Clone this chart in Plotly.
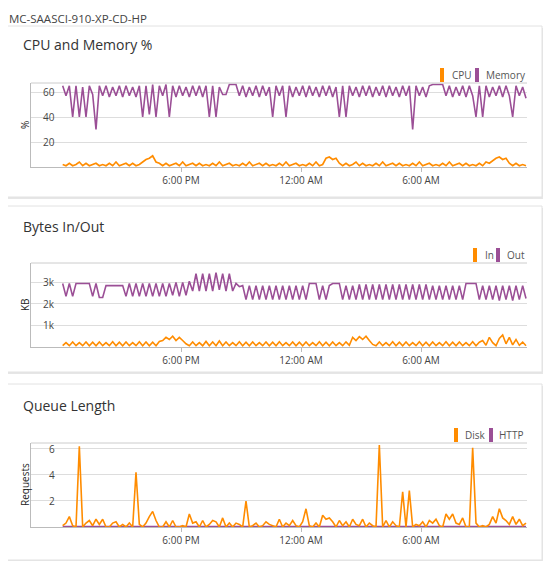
import pandas as pd
import plotly.graph_objects as go

W, H = 551, 569
OFF = 8  # default page margin
FW, FH = W - 2 * OFF, H - 2 * OFF
times = pd.date_range("2024-01-01 12:05", periods=140, freq="10min")

memory = [65,57,65,40,65,40,64,40,65,58,30,
          65,57,65,56,64,57,65,56,65,57,64,56,
          65,40,65,42,66,40,65,57,66,40,
          65,56,65,57,64,56,65,57,65,56,
          65,40,65,40,64,
          58,58,
          66,66,66,
          57,65,56,64,57,65,56,65,57,64,
          40,65,57,65,40,
          65,56,64,57,65,56,65,57,64,56,65,57,65,56,64,
          40,65,40,
          65,57,64,56,65,57,65,56,64,57,65,56,65,57,64,56,65,57,65,
          30,
          65,57,64,56,65,
          66,66,66,66,
          57,65,56,64,57,65,56,65,57,
          40,65,40,
          65,56,64,57,65,56,65,57,
          40,
          65,57,64,55]
cpu = [2,1,3,1,2,4,1,3,1,2, 3,1,2,1,3,1,4,1,2,3, 1,3,1,2,4,6,7,9,4,3,
       1,3,1,2,3,1,4,1,2,3, 1,3,1,2,1,3,1,4,1,2, 3,1,2,1,3,1,4,1,2,3,
       1,3,1,2,1,3,1,4,1,2, 3,1,2,1,3,1,4,1,2,7, 8,6,7,3,1,3,1,2,4,1,
       3,1,2,1,3,1,4,1,2,3, 1,3,1,2,1,3,1,4,1,2, 3,1,2,1,3,1,4,1,2,3,
       1,3,1,2,1,3,1,4,3,5, 7,8,6,7,3,1,3,1,2,1]
bytes_out = [2950,2350,2950,2350,2950,2950,2950,2950,2950,2350,
             2950,2300,2300,2850,2850,2850,2850,2850,2850,2350,
             2950,2350,2950,2350,2950,2350,2950,2350,2950,2350,
             2950,2350,2950,2400,3000,2350,3000,2400,3050,2600,
             3400,2600,3400,2600,3400,2600,3450,2650,3400,2600,
             3400,2600,2950,2800,2850,2200,2850,2200,2850,2200,
             2850,2200,2850,2200,2850,2200,2850,2200,2850,2200,
             2850,2200,2850,2200,2950,2950,2950,2200,2850,2200,
             2850,2950,2950,2950,2200,2850,2200,2850,2200,2900,
             2200,2900,2200,2900,2200,2900,2200,2900,2200,2900,
             2200,2900,2200,2900,2200,2900,2200,2900,2200,2900,
             2200,2850,2200,2850,2200,2850,2200,2850,2200,2850,
             2200,2950,2950,2950,2950,2200,2850,2200,2850,2200,
             2850,2150,2850,2200,2850,2150,2850,2200,2850,2250]
bytes_in = [60,200,60,230,60,200,60,230,60,220, 60,230,60,200,60,240,60,220,60,230,
            60,200,60,240,60,230,60,220,60,260, 300,450,350,500,300,450,300,150,60,230,
            60,200,60,260,60,230,60,280,60,230, 60,200,60,240,60,220,60,230,60,200,
            60,230,60,220,60,240,60,200,60,230, 60,220,60,230,60,200,60,240,60,220,
            60,230,60,200,60,240,80,450,300,480, 350,500,300,120,60,230,60,200,60,240,
            60,220,60,230,60,200,60,240,60,220, 60,230,60,200,60,240,60,220,60,230,
            60,200,60,240,60,220,300,80,450,200, 60,400,560,150,450,100,350,80,230,60]
disk = [0.1,0.3,0.8,0.1,0,6.2,0,0.3,0.5,0.1, 0.6,0.2,0.6,0,0,0.3,0.4,0,0.2,0,
        0.3,0,4.2,0.2,0,0.3,0.8,1.2,0.5,0, 0,0.4,0,0.5,0,0,0.1,0,1.0,0.3,
        0.4,0,0.5,0,0.2,0.5,0.4,0,0.7,0, 0.3,0,0.3,0.2,0,2.0,0,0.1,0.3,0,
        0.1,0.4,0.2,0.1,0,0.6,0,0.3,0.1,0.5, 0.1,0,0.4,1.4,0.1,0,0.3,0,0.9,0.6,
        0.7,0.4,0,0.5,0.1,0.4,0,0.6,0.2,0.1, 0.6,0,0.3,0.1,0,6.3,0,0.5,0,0.4,
        0.1,0,2.7,0,2.8,0,0.2,0.1,0.4,0, 0.5,0.3,0.6,0.1,0,1.0,0.6,1.0,0.3,0.2,
        0.7,0,0,6.1,0.3,0,0.1,0,0.2,0.8, 0.3,1.4,0.7,0.5,0.2,0.8,0.2,0.6,0.1,0.3]
http = [0.03,0.03,0.03,0.03,0.03,0.03,0.03,0.03,0.03,0.03, 0.03,0.03,0.03,0.03,0.03,0.03,0.03,0.03,0.03,0.03,
        0.03,0.03,0.03,0.03,0.03,0.03,0.03,0.03,0.03,0.03, 0.03,0.03,0.03,0.03,0.03,0.03,0.03,0.03,0.03,0.03,
        0.03,0.03,0.03,0.03,0.03,0.03,0.03,0.03,0.03,0.03, 0.03,0.03,0.03,0.03,0.03,0.03,0.03,0.03,0.03,0.03,
        0.03,0.03,0.03,0.03,0.03,0.03,0.03,0.03,0.03,0.03, 0.03,0.03,0.03,0.03,0.03,0.03,0.03,0.03,0.03,0.03,
        0.03,0.03,0.03,0.03,0.03,0.03,0.03,0.03,0.03,0.03, 0.03,0.03,0.03,0.03,0.03,0.03,0.03,0.03,0.03,0.03,
        0.03,0.03,0.03,0.03,0.03,0.03,0.03,0.03,0.03,0.03, 0.03,0.03,0.03,0.03,0.03,0.03,0.03,0.03,0.03,0.03,
        0.03,0.03,0.03,0.03,0.03,0.03,0.03,0.03,0.03,0.03, 0.03,0.03,0.03,0.03,0.03,0.03,0.03,0.03,0.03,0.03]

panel_titles = ["CPU and Memory %", "Bytes In/Out", "Queue Length"]
axis_titles = ["%", "KB", "Requests"]
legend_names = [("CPU", "Memory"), ("In", "Out"), ("Disk", "HTTP")]
x_tickvals = ["2024-01-01 18:00", "2024-01-02 00:00", "2024-01-02 06:00"]
x_ticktext = ["6:00 PM", "12:00 AM", "6:00 AM"]
y_tickvals = [[20, 40, 60], [1000, 2000, 3000], [2, 4, 6]]
y_ticktext = [["20", "40", "60"], ["1k", "2k", "3k"], ["2", "4", "6"]]

ORANGE = "#FF8C00"
PURPLE = "#9B4F96"
FONT = "Open Sans"

def px(x): return (x - OFF) / FW
def py(y): return 1 - (y - OFF) / FH

fig = go.Figure()
series = [(cpu, memory), (bytes_in, bytes_out), (disk, http)]
plots = [(83, 167), (263, 347), (443, 527)]
cards = [(26, 197), (206, 372), (384, 560)]
yranges = [[0, 67.2], [0, 3900], [0, 6.46]]
leg = [(440, 450, 475, 484, 75), (473, 483, 496, 505, 255), (454, 463, 489, 497, 435)]

shapes, annotations = [], []
annotations.append(dict(x=px(7), y=py(9), xref="paper", yref="paper", text="MC-SAASCI-910-XP-CD-HP",
                        showarrow=False, xanchor="left", yanchor="top",
                        font=dict(family=FONT, size=11.5, color="#444")))
for k in range(3):
    n = "" if k == 0 else str(k + 1)
    a, b = series[k]
    fig.add_trace(go.Scatter(x=times, y=b, mode="lines", line=dict(color=PURPLE, width=1.6),
                             xaxis="x" + n, yaxis="y" + n, showlegend=False))
    fig.add_trace(go.Scatter(x=times, y=a, mode="lines", line=dict(color=ORANGE, width=1.6),
                             xaxis="x" + n, yaxis="y" + n, showlegend=False))
    t, bt = plots[k]
    fig.layout["xaxis" + n] = dict(domain=[px(31), px(527)], anchor="y" + n,
                                   range=["2024-01-01 10:30", "2024-01-02 11:18"],
                                   tickvals=x_tickvals, ticktext=x_ticktext, showgrid=False,
                                   showline=True, linecolor="#bbb", ticks="outside", ticklen=4,
                                   tickcolor="#bbb", tickfont=dict(family=FONT, size=10, color="#444"),
                                   zeroline=False)
    fig.layout["yaxis" + n] = dict(domain=[py(bt), py(t)], anchor="x" + n, range=yranges[k],
                                   tickvals=y_tickvals[k], showticklabels=False,
                                   showgrid=True, gridcolor="#ddd", showline=True, linecolor="#bbb",
                                   zeroline=False)
    for v, tx in zip(y_tickvals[k], y_ticktext[k]):
        annotations.append(dict(x=px(57), y=v, xref="paper", yref="y" + n, text=tx, showarrow=False,
                                xanchor="right", yanchor="middle",
                                font=dict(family=FONT, size=10, color="#444")))
    c0, c1 = cards[k]
    shapes.append(dict(type="rect", xref="paper", yref="paper", x0=px(6), x1=px(544), y0=py(c1 + 2),
                       y1=py(c0 + 2), line=dict(width=0), fillcolor="#e6e6e6", layer="below"))
    shapes.append(dict(type="rect", xref="paper", yref="paper", x0=px(5), x1=px(542), y0=py(c1),
                       y1=py(c0), line=dict(color="#e2e2e2", width=1), fillcolor="white", layer="below"))
    shapes.append(dict(type="line", xref="paper", yref="paper", x0=px(31), x1=px(527), y0=py(t), y1=py(t),
                       line=dict(color="#ccc", width=1)))
    annotations.append(dict(x=px(21), y=py(cards[k][0] + 19 if k == 0 else c0 + 21), xref="paper", yref="paper",
                            text=panel_titles[k], showarrow=False, xanchor="left", yanchor="middle",
                            font=dict(family=FONT, size=14, color="#333")))
    annotations.append(dict(x=px(25), y=py((t + bt) / 2), xref="paper", yref="paper", text=axis_titles[k],
                            showarrow=False, textangle=-90, xanchor="center", yanchor="middle",
                            font=dict(family=FONT, size=10, color="#222")))
    ob, ot, pb, pt, ly = leg[k]
    for bx, col, tx, name in [(ob, ORANGE, ot, legend_names[k][0]), (pb, PURPLE, pt, legend_names[k][1])]:
        shapes.append(dict(type="rect", xref="paper", yref="paper", x0=px(bx), x1=px(bx + 4),
                           y0=py(ly + 7), y1=py(ly - 7), line=dict(width=0), fillcolor=col))
        annotations.append(dict(x=px(tx), y=py(ly), xref="paper", yref="paper", text=name,
                                showarrow=False, xanchor="left", yanchor="middle",
                                font=dict(family=FONT, size=10, color="#555")))

fig.update_layout(width=FW, height=FH, margin=dict(l=0, r=0, t=0, b=0),
                  paper_bgcolor="white", plot_bgcolor="rgba(0,0,0,0)",
                  shapes=shapes, annotations=annotations, showlegend=False)
fig.write_html("out.html")
